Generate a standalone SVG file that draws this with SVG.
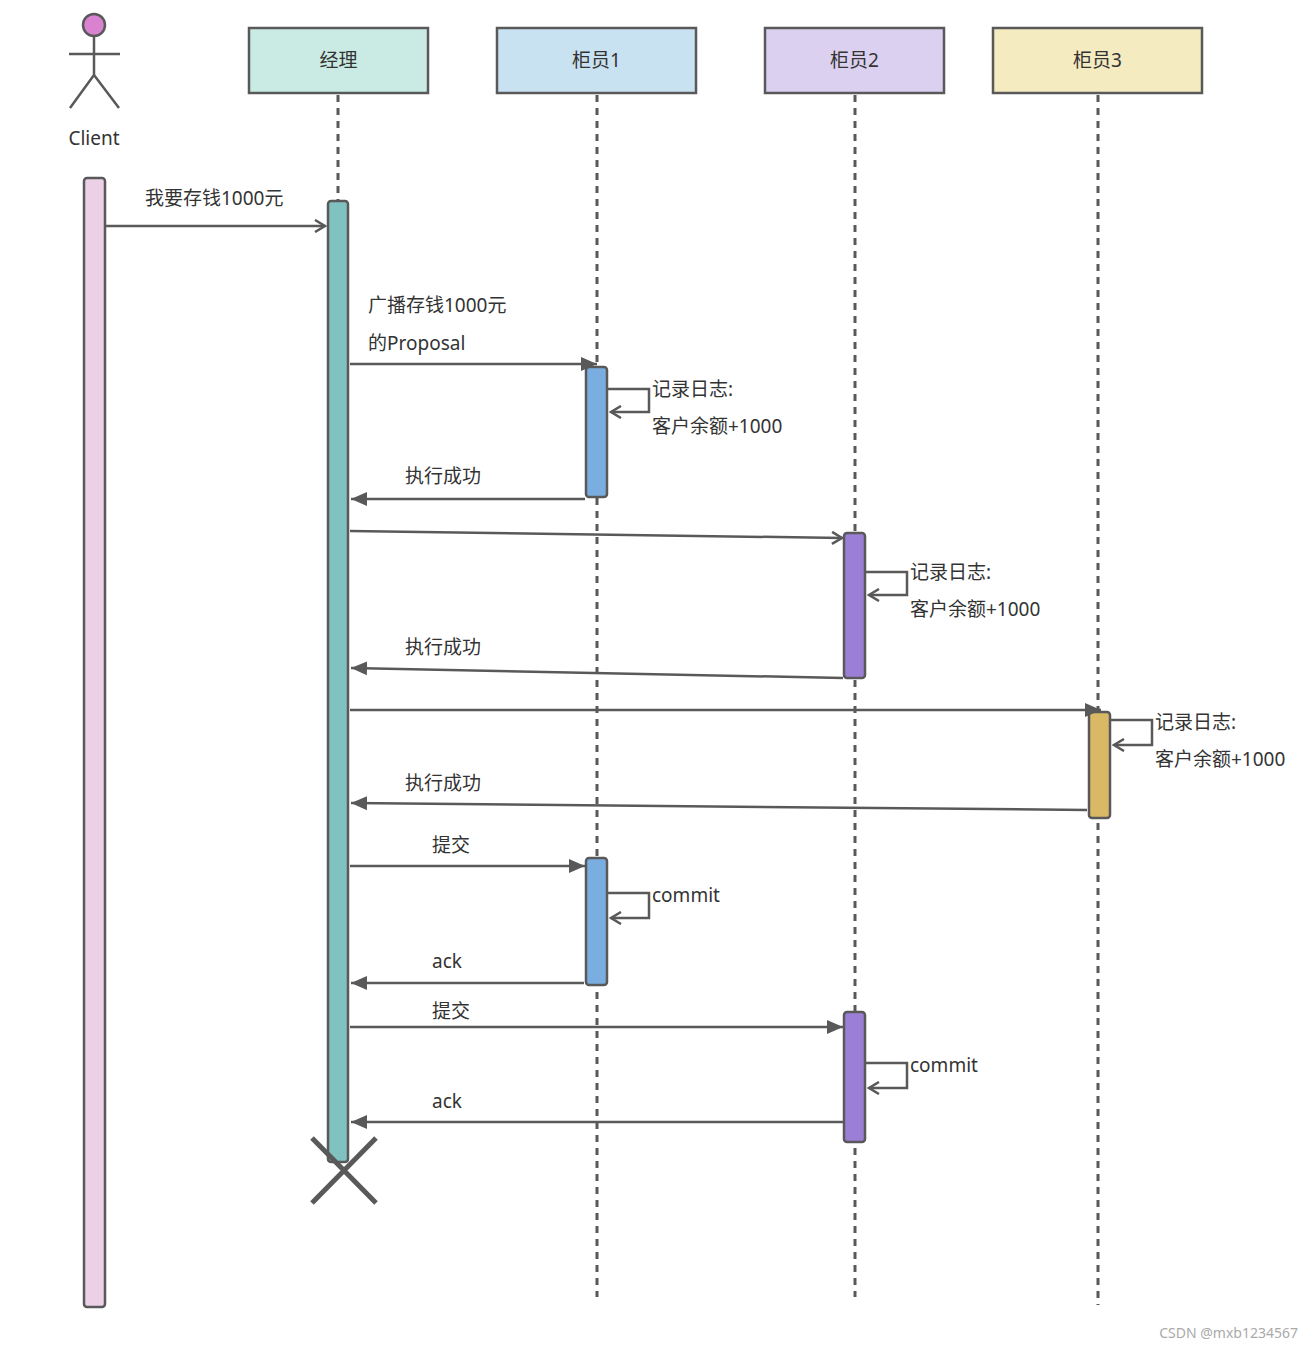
<svg xmlns="http://www.w3.org/2000/svg" width="1314" height="1348" viewBox="0 0 1314 1348">
<style>
text{font-family:"Noto Sans","Noto Sans CJK SC",sans-serif;font-size:19px;fill:#333}
.hd{stroke:#595959;stroke-width:2.5}
.life{stroke:#595959;stroke-width:3;stroke-dasharray:7,6}
.act{stroke:#595959;stroke-width:2.5}
.m{fill:none;stroke:#595959;stroke-width:2.5}
.mo{marker-end:url(#open)}
.mf{marker-end:url(#fill)}
</style>
<defs>
<marker id="open" markerWidth="14" markerHeight="14" refX="12" refY="7" orient="auto" markerUnits="userSpaceOnUse"><path d="M2,1 L12,7 L2,13" fill="none" stroke="#595959" stroke-width="2.5"/></marker>
<marker id="fill" markerWidth="18" markerHeight="16" refX="16" refY="8" orient="auto" markerUnits="userSpaceOnUse"><path d="M0,1 L16,8 L0,15 Z" fill="#595959"/></marker>
</defs>
<g id="client">
<circle cx="94" cy="25" r="11" fill="#d982d0" stroke="#595959" stroke-width="2.5"/>
<path d="M94,36 V75 M69,54 H120 M94,75 L70,108 M94,75 L119,108" class="m"/>
<text x="94" y="145" text-anchor="middle">Client</text>
<rect x="84" y="178" width="21" height="1129" rx="3" fill="#ecd0e6" class="act"/>
</g>
<g id="manager">
<rect x="249" y="28" width="179" height="65" fill="#c9ebe4" class="hd"/>
<text x="338.5" y="67" text-anchor="middle">经理</text>
<line x1="338" y1="95" x2="338" y2="200" class="life"/>
<rect x="328" y="201" width="20" height="961" rx="3" fill="#80c2c0" class="act"/>
<path d="M312,1138 L376,1203 M376,1138 L312,1203" stroke="#595959" stroke-width="5"/>
</g>
<g id="teller1">
<rect x="497" y="28" width="199" height="65" fill="#c9e2f1" class="hd"/>
<text x="596.5" y="67" text-anchor="middle">柜员1</text>
<line x1="597" y1="95" x2="597" y2="1297" class="life"/>
<rect x="586" y="367" width="21" height="130" rx="3" fill="#7aaee0" class="act"/>
<rect x="586" y="858" width="21" height="127" rx="3" fill="#7aaee0" class="act"/>
</g>
<g id="teller2">
<rect x="765" y="28" width="179" height="65" fill="#dcd0f1" class="hd"/>
<text x="854.5" y="67" text-anchor="middle">柜员2</text>
<line x1="855" y1="95" x2="855" y2="1297" class="life"/>
<rect x="844" y="533" width="21" height="145" rx="3" fill="#9b7fd6" class="act"/>
<rect x="844" y="1012" width="21" height="130" rx="3" fill="#9b7fd6" class="act"/>
</g>
<g id="teller3">
<rect x="993" y="28" width="209" height="65" fill="#f5ebc1" class="hd"/>
<text x="1097.5" y="67" text-anchor="middle">柜员3</text>
<line x1="1098" y1="95" x2="1098" y2="1305" class="life"/>
<rect x="1089" y="712" width="21" height="106" rx="3" fill="#d9b866" class="act"/>
</g>
<g id="connectors">
<path d="M106,226 H325" class="m mo"/>
<path d="M350,364 H597" class="m mf"/>
<path d="M608,389 H649 V412 H611" class="m mo"/>
<path d="M585,499 H351" class="m mf"/>
<path d="M350,531 L842,538" class="m mo"/>
<path d="M866,572 H907 V595 H869" class="m mo"/>
<path d="M843,678 L351,668" class="m mf"/>
<path d="M350,710 H1101" class="m mf"/>
<path d="M1111,720 H1152 V745 H1114" class="m mo"/>
<path d="M1087,810 L351,803" class="m mf"/>
<path d="M350,866 H585" class="m mf"/>
<path d="M608,893 H649 V918 H611" class="m mo"/>
<path d="M584,983 H351" class="m mf"/>
<path d="M350,1027 H843" class="m mf"/>
<path d="M866,1063 H907 V1088 H869" class="m mo"/>
<path d="M843,1122 H351" class="m mf"/>
</g>
<g id="labels">
<text x="145" y="205">我要存钱1000元</text>
<text x="368" y="312">广播存钱1000元</text>
<text x="368" y="350">的Proposal</text>
<text x="652" y="396">记录日志:</text>
<text x="652" y="433">客户余额+1000</text>
<text x="405" y="483">执行成功</text>
<text x="910" y="579">记录日志:</text>
<text x="910" y="616">客户余额+1000</text>
<text x="405" y="654">执行成功</text>
<text x="1155" y="729">记录日志:</text>
<text x="1155" y="766">客户余额+1000</text>
<text x="405" y="790">执行成功</text>
<text x="432" y="852">提交</text>
<text x="652" y="902">commit</text>
<text x="432" y="968">ack</text>
<text x="432" y="1018">提交</text>
<text x="910" y="1072">commit</text>
<text x="432" y="1108">ack</text>
<text x="1298" y="1338" text-anchor="end" style="font-size:14px;fill:#aaa">CSDN @mxb1234567</text>
</g>
</svg>
